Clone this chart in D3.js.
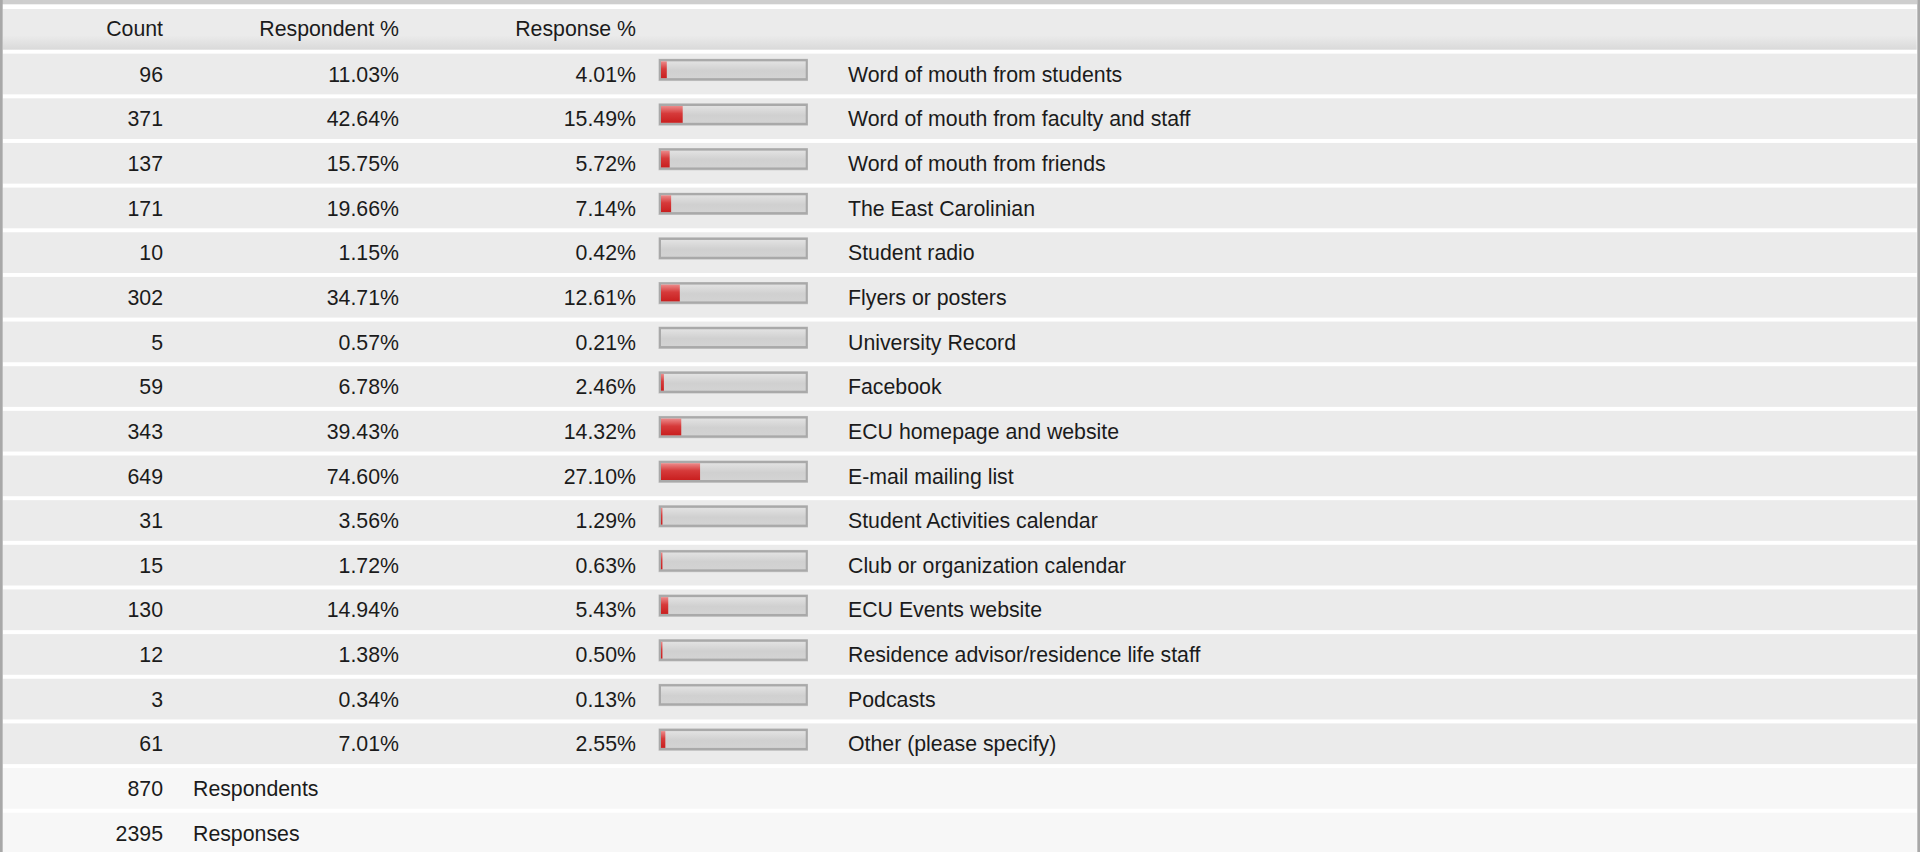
<!DOCTYPE html>
<html>
<head>
<meta charset="utf-8">
<script src="https://cdn.jsdelivr.net/npm/d3@7"></script>
<style>
  html, body { margin: 0; padding: 0; background: #ffffff; }
  svg { display: block; }
</style>
</head>
<body>
<svg id="chart" width="1925" height="852"></svg>
<script>
// ---- data ----
const columnHeaders = ["Count", "Respondent %", "Response %"];
const categories = [
  "Word of mouth from students",
  "Word of mouth from faculty and staff",
  "Word of mouth from friends",
  "The East Carolinian",
  "Student radio",
  "Flyers or posters",
  "University Record",
  "Facebook",
  "ECU homepage and website",
  "E-mail mailing list",
  "Student Activities calendar",
  "Club or organization calendar",
  "ECU Events website",
  "Residence advisor/residence life staff",
  "Podcasts",
  "Other (please specify)"
];
const counts = [96, 371, 137, 171, 10, 302, 5, 59, 343, 649, 31, 15, 130, 12, 3, 61];
const respondentPct = [11.03, 42.64, 15.75, 19.66, 1.15, 34.71, 0.57, 6.78, 39.43, 74.60, 3.56, 1.72, 14.94, 1.38, 0.34, 7.01];
const responsePct = [4.01, 15.49, 5.72, 7.14, 0.42, 12.61, 0.21, 2.46, 14.32, 27.10, 1.29, 0.63, 5.43, 0.50, 0.13, 2.55];
const summaryValues = [870, 2395];
const summaryLabels = ["Respondents", "Responses"];

// ---- layout ----
const W = 1925, H = 852;
const svg = d3.select("#chart");
const font = "'Liberation Sans', Arial, Helvetica, sans-serif";
const fontSize = 21.3;
const textColor = "#1b1b1b";

const rowKeys = ["header"].concat(categories.map((d, i) => "c" + i), summaryLabels.map((d, i) => "s" + i));
const y = d3.scaleBand()
  .domain(rowKeys)
  .range([9, 9 + 44.65 * (rowKeys.length - 0.0885)])
  .paddingInner(0.0885)
  .paddingOuter(0);

const xBar = d3.scaleLinear().domain([0, 100]).range([661, 805.7]);

const colRight = { count: 163, resp: 399, respo: 636 };
const labelX = 848;
const summaryLabelX = 193;
const rowLeft = 2.7, rowRight = 1916.7;

// defs
const defs = svg.append("defs");
const hg = defs.append("linearGradient").attr("id", "hdrGrad").attr("x1", 0).attr("y1", 0).attr("x2", 0).attr("y2", 1);
hg.append("stop").attr("offset", "0%").attr("stop-color", "#ebebeb");
hg.append("stop").attr("offset", "65%").attr("stop-color", "#ebebeb");
hg.append("stop").attr("offset", "100%").attr("stop-color", "#d9d9d9");

const gg = defs.append("linearGradient").attr("id", "grayGrad").attr("x1", 0).attr("y1", 0).attr("x2", 0).attr("y2", 1);
gg.append("stop").attr("offset", "0%").attr("stop-color", "#e2e2e2");
gg.append("stop").attr("offset", "55%").attr("stop-color", "#d0d0d0");
gg.append("stop").attr("offset", "100%").attr("stop-color", "#d3d3d3");

const rg = defs.append("linearGradient").attr("id", "redGrad").attr("x1", 0).attr("y1", 0).attr("x2", 0).attr("y2", 1);
rg.append("stop").attr("offset", "0%").attr("stop-color", "#ec8a8a");
rg.append("stop").attr("offset", "45%").attr("stop-color", "#d63a3a");
rg.append("stop").attr("offset", "100%").attr("stop-color", "#c91f1f");

// background frame
svg.append("rect").attr("x", 0).attr("y", 0).attr("width", W).attr("height", H).attr("fill", "#ffffff");
svg.append("rect").attr("x", 0).attr("y", 0).attr("width", 1917.3).attr("height", 4.3).attr("fill", "#cecece");

// header row
svg.append("rect")
  .attr("x", rowLeft).attr("y", y("header"))
  .attr("width", rowRight - rowLeft).attr("height", y.bandwidth())
  .attr("fill", "url(#hdrGrad)");

svg.append("g").selectAll("text")
  .data(columnHeaders)
  .join("text")
  .attr("x", (d, i) => [colRight.count, colRight.resp, colRight.respo][i])
  .attr("y", y("header") + 27)
  .attr("text-anchor", "end")
  .attr("font-family", font).attr("font-size", fontSize).attr("fill", textColor)
  .text(d => d);

// data rows
const rows = categories.map((c, i) => ({
  key: "c" + i, label: c, count: counts[i], rp: respondentPct[i], sp: responsePct[i]
}));

const rg2 = svg.append("g").selectAll("g").data(rows).join("g")
  .attr("transform", d => `translate(0,${y(d.key)})`);

rg2.append("rect")
  .attr("x", rowLeft).attr("y", 0)
  .attr("width", rowRight - rowLeft).attr("height", y.bandwidth())
  .attr("fill", "#ebebeb");

const txt = (sel) => sel.attr("font-family", font).attr("font-size", fontSize).attr("fill", textColor).attr("y", 28);

rg2.append("text").call(txt).attr("x", colRight.count).attr("text-anchor", "end").text(d => d.count);
rg2.append("text").call(txt).attr("x", colRight.resp).attr("text-anchor", "end").text(d => d.rp.toFixed(2) + "%");
rg2.append("text").call(txt).attr("x", colRight.respo).attr("text-anchor", "end").text(d => d.sp.toFixed(2) + "%");
rg2.append("text").call(txt).attr("x", labelX).attr("text-anchor", "start").text(d => d.label);

// bar: outer light outline, gray border, inner gradient, red fill
const barTop = 5.4, barH = 21.4, border = 2;
rg2.append("rect")
  .attr("x", xBar(0) - border - 0.6).attr("y", barTop - 0.3)
  .attr("width", xBar(100) - xBar(0) + 2 * border + 0.9).attr("height", barH + 0.9)
  .attr("fill", "#c9c9c9");
rg2.append("rect")
  .attr("x", xBar(0) - border).attr("y", barTop)
  .attr("width", xBar(100) - xBar(0) + 2 * border).attr("height", barH)
  .attr("fill", "#a9a9a9");
rg2.append("rect")
  .attr("x", xBar(0)).attr("y", barTop + border + 0.3)
  .attr("width", xBar(100) - xBar(0)).attr("height", barH - 2 * border - 0.6)
  .attr("fill", "url(#grayGrad)");
rg2.append("rect")
  .attr("x", xBar(0)).attr("y", barTop + border + 0.3)
  .attr("width", d => xBar(Math.round(d.sp)) - xBar(0))
  .attr("height", barH - 2 * border - 0.6)
  .attr("fill", "url(#redGrad)");

// summary rows
const summ = summaryLabels.map((l, i) => ({ key: "s" + i, label: l, value: summaryValues[i] }));
const sg = svg.append("g").selectAll("g").data(summ).join("g")
  .attr("transform", d => `translate(0,${y(d.key)})`);
sg.append("rect")
  .attr("x", rowLeft).attr("y", 0)
  .attr("width", rowRight - rowLeft)
  .attr("height", (d, i) => i === summ.length - 1 ? H - y(d.key) : y.bandwidth())
  .attr("fill", "#f7f7f7");
sg.append("text").call(txt).attr("x", colRight.count).attr("text-anchor", "end").text(d => d.value);
sg.append("text").call(txt).attr("x", summaryLabelX).attr("text-anchor", "start").text(d => d.label);

// side borders
svg.append("rect").attr("x", 0).attr("y", 0).attr("width", 2.7).attr("height", H).attr("fill", "#a8a8a8");
svg.append("rect").attr("x", 1917.3).attr("y", 0).attr("width", 2.7).attr("height", H).attr("fill", "#a8a8a8");
</script>
</body>
</html>
